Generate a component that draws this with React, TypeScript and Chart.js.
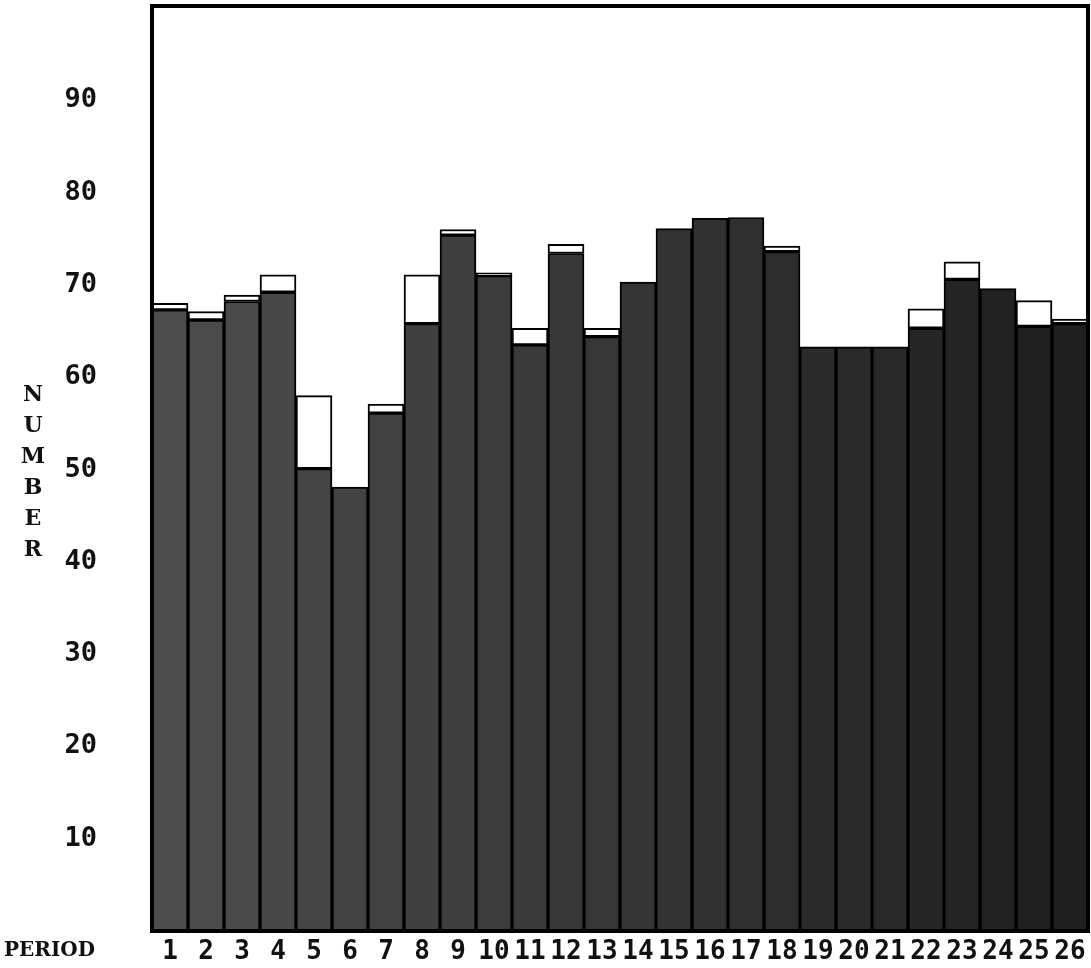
import React, { useEffect, useRef } from "react";
import { Chart, registerables } from "chart.js";

Chart.register(...registerables);

const periods = ["1","2","3","4","5","6","7","8","9","10","11","12","13","14","15","16","17","18","19","20","21","22","23","24","25","26"];
const darkValues = [67.3, 66.2, 68.2, 69.2, 50.1, 48.1, 56.1, 65.8, 75.4, 71.0, 63.5, 73.4, 64.4, 70.3, 76.1, 77.2, 77.3, 73.6, 63.3, 63.3, 63.3, 65.3, 70.6, 69.6, 65.5, 65.8];
const totalValues = [68.0, 67.1, 68.9, 71.1, 58.0, 48.1, 57.1, 71.1, 76.0, 71.3, 65.3, 74.4, 65.3, 70.3, 76.1, 77.2, 77.3, 74.2, 63.3, 63.3, 63.3, 67.4, 72.5, 69.6, 68.3, 66.3];
const yTicks = [10, 20, 30, 40, 50, 60, 70, 80, 90];
const yAxisWord = "NUMBER";
const xAxisWord = "PERIOD";

const whiteValues = totalValues.map((t, i) => Math.max(0, +(t - darkValues[i]).toFixed(2)));

const framePlugin = {
  id: "frameAndWords",
  afterDraw(chart: any) {
    const { ctx, chartArea } = chart;
    ctx.save();
    ctx.strokeStyle = "#000";
    ctx.lineWidth = 4;
    ctx.strokeRect(chartArea.left, chartArea.top - 2, chartArea.right - chartArea.left, chartArea.bottom - chartArea.top + 2);
    ctx.fillStyle = "#111";
    ctx.font = "bold 22px 'DejaVu Serif'";
    ctx.textAlign = "center";
    ctx.textBaseline = "middle";
    const letters = yAxisWord.split("");
    letters.forEach((ch, i) => {
      ctx.fillText(ch, 33, 395 + i * 31);
    });
    ctx.font = "bold 20px 'DejaVu Serif'";
    ctx.textAlign = "left";
    ctx.fillText(xAxisWord, 4, 951);
    ctx.restore();
  },
};

export default function App() {
  const ref = useRef<HTMLCanvasElement | null>(null);
  useEffect(() => {
    if (!ref.current) return;
    const darkColor = (c: any) => {
      const i = c.dataIndex ?? 0;
      const l = 30 - (i / 25) * 18;
      return `hsl(0,0%,${l}%)`;
    };
    const chart = new Chart(ref.current, {
      type: "bar",
      data: {
        labels: periods,
        datasets: [
          {
            label: "dark",
            data: darkValues,
            backgroundColor: darkColor,
            borderColor: "#000",
            borderWidth: 2,
            borderSkipped: "bottom",
            categoryPercentage: 1,
            barPercentage: 1,
          },
          {
            label: "white",
            data: whiteValues,
            backgroundColor: "#fff",
            borderColor: "#000",
            borderWidth: 2,
            borderSkipped: false,
            categoryPercentage: 1,
            barPercentage: 1,
          },
        ],
      },
      options: {
        animation: false,
        responsive: false,
        maintainAspectRatio: false,
        layout: { padding: { top: 8, right: 3, left: 0, bottom: 0 } },
        plugins: { legend: { display: false }, tooltip: { enabled: false }, title: { display: false } },
        scales: {
          x: {
            stacked: true,
            grid: { display: false, drawTicks: false },
            border: { display: true, color: "#000", width: 3 },
            ticks: {
              color: "#111",
              font: { family: "'DejaVu Sans Mono'", weight: "bold", size: 26 },
              padding: 6,
              maxRotation: 0,
              autoSkip: false,
            },
            afterFit(scale: any) {
              scale.height = 37;
              scale.paddingLeft = 0;
              scale.paddingRight = 0;
            },
          },
          y: {
            stacked: true,
            min: 0,
            max: 100,
            grid: { display: false, drawTicks: false },
            border: { display: true, color: "#000", width: 3 },
            afterBuildTicks(scale: any) {
              scale.ticks = yTicks.map((v) => ({ value: v }));
            },
            ticks: {
              color: "#111",
              font: { family: "'DejaVu Sans Mono'", weight: "bold", size: 27 },
              padding: 55,
            },
            afterFit(scale: any) {
              scale.width = 152;
              scale.paddingTop = 0;
              scale.paddingBottom = 0;
            },
          },
        },
      },
      plugins: [framePlugin],
    });
    return () => chart.destroy();
  }, []);
  return (
    <div style={{ position: "absolute", left: 0, top: 0, width: 1091, height: 968, background: "#fff" }}>
      <canvas ref={ref} width={1091} height={968} style={{ display: "block" }} />
    </div>
  );
}
